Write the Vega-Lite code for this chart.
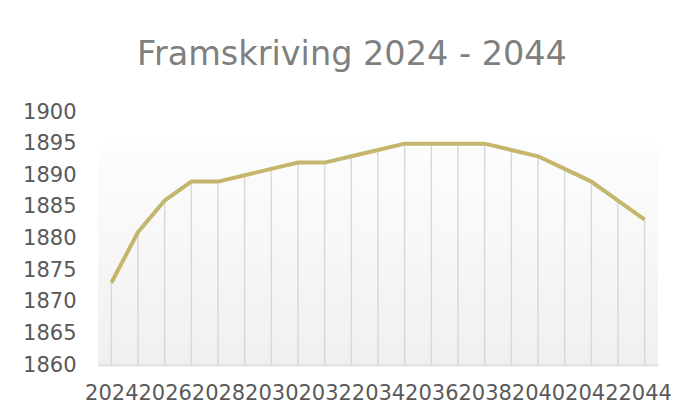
{
  "$schema": "https://vega.github.io/schema/vega-lite/v6.json",
  "autosize": "none",
  "width": 560,
  "height": 253,
  "padding": {"left": 98, "top": 112, "right": 34, "bottom": 53},
  "background": "white",
  "title": {
    "text": "Framskriving 2024 - 2044",
    "font": "DejaVu Sans",
    "fontSize": 33.5,
    "fontWeight": "normal",
    "color": "#7f7f7f",
    "anchor": "middle",
    "dx": -26,
    "offset": 29
  },
  "config": {
    "view": {
      "stroke": null,
      "fill": {
        "gradient": "linear",
        "x1": 0, "y1": 0, "x2": 0, "y2": 1,
        "stops": [
          {"offset": 0, "color": "#ffffff"},
          {"offset": 0.12, "color": "#ffffff"},
          {"offset": 0.13, "color": "#fdfdfd"},
          {"offset": 1, "color": "#f0f0f0"}
        ]
      }
    },
    "font": "DejaVu Sans"
  },
  "data": {
    "values": [
      {"year": "2024", "value": 1873},
      {"year": "2025", "value": 1881},
      {"year": "2026", "value": 1886},
      {"year": "2027", "value": 1889},
      {"year": "2028", "value": 1889},
      {"year": "2029", "value": 1890},
      {"year": "2030", "value": 1891},
      {"year": "2031", "value": 1892},
      {"year": "2032", "value": 1892},
      {"year": "2033", "value": 1893},
      {"year": "2034", "value": 1894},
      {"year": "2035", "value": 1895},
      {"year": "2036", "value": 1895},
      {"year": "2037", "value": 1895},
      {"year": "2038", "value": 1895},
      {"year": "2039", "value": 1894},
      {"year": "2040", "value": 1893},
      {"year": "2041", "value": 1891},
      {"year": "2042", "value": 1889},
      {"year": "2043", "value": 1886},
      {"year": "2044", "value": 1883}
    ]
  },
  "encoding": {
    "x": {
      "field": "year",
      "type": "ordinal",
      "scale": {"type": "point", "padding": 0.5},
      "axis": {
        "title": null,
        "labelAngle": 0,
        "labelFontSize": 21,
        "labelColor": "#595959",
        "labelFont": "DejaVu Sans",
        "labelExpr": "(+datum.value) % 2 == 0 ? datum.value : ''",
        "labelOverlap": false,
        "labelPadding": 17,
        "ticks": false,
        "domainColor": "#d9d9d9",
        "domainWidth": 1.5,
        "grid": false
      }
    },
    "y": {
      "field": "value",
      "type": "quantitative",
      "scale": {"domain": [1860, 1900], "nice": false, "zero": false},
      "axis": {
        "title": null,
        "format": "d",
        "values": [1860, 1865, 1870, 1875, 1880, 1885, 1890, 1895, 1900],
        "labelFontSize": 21,
        "labelColor": "#595959",
        "labelFont": "DejaVu Sans",
        "labelPadding": 22,
        "ticks": false,
        "domain": false,
        "grid": false
      }
    }
  },
  "layer": [
    {
      "mark": {"type": "rule", "color": "#d9d9d9", "strokeWidth": 1.5},
      "encoding": {"y2": {"datum": 1860}}
    },
    {
      "mark": {"type": "line", "color": "#c4b66c", "strokeWidth": 4, "strokeJoin": "miter"}
    }
  ]
}
